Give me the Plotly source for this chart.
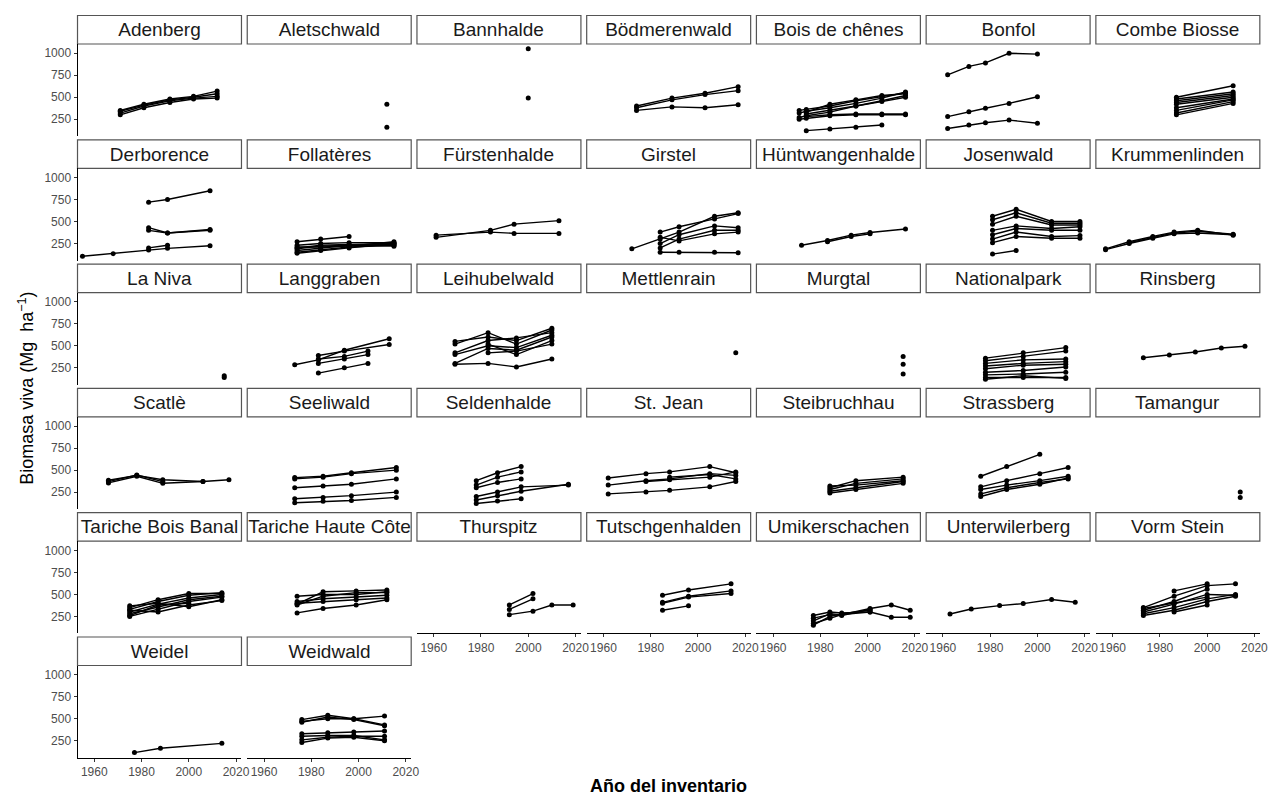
import plotly.graph_objects as go

# ---------------- data (inventory year, living biomass Mg/ha) ----------------
ADENBERG_YEARS = [1971, 1981, 1992, 2002, 2012]
ADENBERG = [[300, 380, 440, 480, 490], [320, 400, 460, 490, 510],
            [340, 410, 470, 500, 540], [350, 420, 480, 510, 570]]
ALETSCHWALD_YEARS = [2012]
ALETSCHWALD = [[420], [160]]
BANNHALDE_YEARS = [2000]
BANNHALDE = [[1050], [490]]
BODMERENWALD_YEARS = [1974, 1989, 2003, 2017]
BODMERENWALD = [[400, 490, 545, 620], [380, 470, 530, 575], [350, 390, 380, 415]]
BOIS_DE_CHENES_YEARS = [1971, 1974, 1984, 1995, 2006, 2016]
BOIS_DE_CHENES = [[270, 290, 330, 400, 460, 520], [320, 340, 380, 430, 490, 560],
                  [350, 360, 400, 460, 510, 550], [None, 310, 350, 400, 450, 500],
                  [None, 280, 300, 310, 310, 310], [None, 120, 140, 160, 185, None],
                  [None, 330, 420, 470, 520, 540], [250, 260, 290, 300, 300, 300]]
BONFOL_YEARS = [1962, 1971, 1978, 1988, 2000]
BONFOL = [[755, 850, 890, 1000, 990], [280, 335, 375, 430, 505], [145, 185, 210, 240, 205]]
COMBE_BIOSSE_YEARS = [1987, 2011]
COMBE_BIOSSE = [[500, 630], [480, 560], [460, 540], [440, 520], [420, 500],
                [380, 480], [350, 470], [320, 450], [300, 430]]
DERBORENCE_YEARS = [1955, 1968, 1983, 1991, 2009]
DERBORENCE = [[105, 135, 175, 195, 225], [None, None, 200, 230, None],
              [None, None, 430, 370, 410], [None, None, 400, 370, 400],
              [None, None, 720, 750, 850]]
FOLLATERES_YEARS = [1974, 1984, 1996, 2015]
FOLLATERES = [[150, 180, 210, 230], [170, 200, 230, 240], [200, 230, 240, 250],
              [230, 250, 260, 260], [270, 300, 330, None], [190, 220, 230, 220],
              [210, 210, 220, 270], [140, 170, 200, 250]]
FURSTENHALDE_YEARS = [1961, 1984, 1994, 2013]
FURSTENHALDE = [[320, 400, 470, 510], [345, 380, 365, 365]]
GIRSTEL_YEARS = [1972, 1984, 1992, 2007, 2017]
GIRSTEL = [[190, 300, 380, 560, 600], [None, 380, 440, 530, 590],
           [None, 250, 350, 450, 430], [None, 200, 300, 400, 400],
           [None, 320, 280, 360, 380], [None, 150, 150, 150, 145]]
HUNTWANGENHALDE_YEARS = [1972, 1983, 1993, 2001, 2016]
HUNTWANGENHALDE = [[230, 285, 345, 375, 415], [None, 270, 330, 360, None]]
JOSENWALD_YEARS = [1981, 1991, 2006, 2018]
JOSENWALD = [[560, 640, 500, 500], [520, 600, 480, 480], [470, 560, 460, 460],
             [400, 450, 420, 440], [350, 420, 400, 400], [300, 380, 330, 340],
             [260, 330, 310, 310], [130, 170, None, None]]
KRUMMENLINDEN_YEARS = [1957, 1967, 1977, 1986, 1996, 2011]
KRUMMENLINDEN = [[180, 250, 310, 360, 370, 350], [190, 270, 330, 380, 400, 345],
                 [None, 260, 320, 370, 390, 355]]
LA_NIVA_YEARS = [2015]
LA_NIVA = [[160], [140]]
LANGGRABEN_YEARS = [1973, 1983, 1994, 2004, 2013]
LANGGRABEN = [[285, 340, 450, None, 580], [None, 390, 440, None, 515],
              [None, 350, 380, 440, None], [None, 300, 350, 400, None],
              [None, 190, 250, 300, None]]
LEIHUBELWALD_YEARS = [1969, 1983, 1995, 2010]
LEIHUBELWALD = [[550, 600, 560, 700], [520, 650, 520, 680], [420, 560, 590, 650],
                [400, 500, 480, 620], [300, 470, 450, 600], [None, 420, 440, 520],
                [290, 300, 260, 350], [None, 520, 400, 560]]
METTLENRAIN_YEARS = [2016]
METTLENRAIN = [[420]]
MURGTAL_YEARS = [2015]
MURGTAL = [[380], [290], [180]]
NATIONALPARK_YEARS = [1978, 1994, 2012]
NATIONALPARK = [[360, 420, 480], [330, 380, 440], [300, 340, 350], [270, 300, 320],
                [240, 280, 290], [200, 220, 260], [170, 180, 200], [140, 140, 140],
                [120, 160, 130]]
RINSBERG_YEARS = [1973, 1984, 1995, 2006, 2016]
RINSBERG = [[365, 395, 430, 475, 495]]
SCATLE_YEARS = [1966, 1978, 1989, 2006, 2017]
SCATLE = [[385, 440, 390, 370, 390], [355, 430, 350, 370, None], [370, 445, 370, None, None]]
SEELIWALD_YEARS = [1973, 1985, 1997, 2016]
SEELIWALD = [[415, 430, 470, 530], [400, 420, 460, 500], [300, 320, 340, 400],
             [175, 190, 210, 250], [130, 145, 155, 190]]
SELDENHALDE_YEARS = [1978, 1987, 1997, 2017]
SELDENHALDE = [[380, 470, 540, None], [330, 420, 480, None], [300, 360, 400, None],
               [160, 210, 260, 340], [120, 150, 175, None], [200, 250, 310, 330]]
ST_JEAN_YEARS = [1962, 1978, 1988, 2005, 2016]
ST_JEAN = [[410, 460, 480, 540, 470], [330, 380, 400, 460, 440], [230, 250, 270, 310, 370],
           [None, 370, 390, 420, 480], [None, None, 420, 450, 400]]
STEIBRUCHHAU_YEARS = [1984, 1995, 2015]
STEIBRUCHHAU = [[300, 380, 420], [280, 350, 400], [260, 300, 370], [240, 280, 350],
                [320, 330, 380]]
STRASSBERG_YEARS = [1976, 1987, 2001, 2013]
STRASSBERG = [[430, 540, 680, None], [310, 380, 460, 530], [280, 330, 380, 430],
              [230, 300, 360, 400], [200, 280, 340, 410]]
TAMANGUR_YEARS = [2014]
TAMANGUR = [[250], [190]]
TARICHE_BB_YEARS = [1975, 1987, 2000, 2014]
TARICHE_BB = [[250, 330, 420, 470], [280, 360, 440, 480], [300, 390, 460, 500],
              [330, 420, 490, 520], [350, 440, 510, 510], [370, 400, 360, 440],
              [320, 300, 380, 430], [260, 380, 400, None]]
TARICHE_HC_YEARS = [1974, 1985, 1999, 2012]
TARICHE_HC = [[390, 530, 540, 550], [380, 480, 520, 520], [420, 450, 470, 490],
              [400, 420, 440, 460], [290, 340, 380, 440], [480, 500, 500, 530]]
THURSPITZ_YEARS = [1992, 2002, 2010, 2019]
THURSPITZ = [[380, 510, None, None], [330, 450, None, None], [270, 310, 380, 380]]
TUTSCHGENHALDEN_YEARS = [1985, 1996, 2014]
TUTSCHGENHALDEN = [[490, 550, 620], [410, 480, 540], [400, 470, 510], [320, 370, None]]
UMIKERSCHACHEN_YEARS = [1977, 1984, 1989, 2001, 2010, 2018]
UMIKERSCHACHEN = [[200, 280, 270, 340, 380, 320], [260, 300, 290, 300, 240, 240],
                  [150, 250, 280, 320, None, None], [230, 270, 260, 330, None, None],
                  [170, 230, 270, 300, None, None]]
UNTERWILERBERG_YEARS = [1963, 1972, 1984, 1994, 2006, 2016]
UNTERWILERBERG = [[277, 334, 373, 396, 442, 411]]
VORM_STEIN_YEARS = [1973, 1986, 2000, 2012]
VORM_STEIN = [[350, 480, 600, 620], [320, 420, 560, None], [300, 390, 500, 490],
              [280, 350, 450, 500], [260, 320, 420, 480], [None, 540, 620, None],
              [None, 300, 380, None], [340, 400, 470, None]]
WEIDEL_YEARS = [1977, 1988, 2014]
WEIDEL = [[115, 165, 220]]
WEIDWALD_YEARS = [1976, 1987, 1998, 2011]
WEIDWALD = [[490, 540, 500, 530], [460, 520, 490, 420], [470, 500, 500, 430],
            [330, 340, 350, 360], [300, 310, 310, 260], [260, 290, 300, 300],
            [230, 280, 290, 250]]

SITES = [
    ("Adenberg", ADENBERG_YEARS, ADENBERG), ("Aletschwald", ALETSCHWALD_YEARS, ALETSCHWALD),
    ("Bannhalde", BANNHALDE_YEARS, BANNHALDE), ("Bödmerenwald", BODMERENWALD_YEARS, BODMERENWALD),
    ("Bois de chênes", BOIS_DE_CHENES_YEARS, BOIS_DE_CHENES), ("Bonfol", BONFOL_YEARS, BONFOL),
    ("Combe Biosse", COMBE_BIOSSE_YEARS, COMBE_BIOSSE), ("Derborence", DERBORENCE_YEARS, DERBORENCE),
    ("Follatères", FOLLATERES_YEARS, FOLLATERES), ("Fürstenhalde", FURSTENHALDE_YEARS, FURSTENHALDE),
    ("Girstel", GIRSTEL_YEARS, GIRSTEL), ("Hüntwangenhalde", HUNTWANGENHALDE_YEARS, HUNTWANGENHALDE),
    ("Josenwald", JOSENWALD_YEARS, JOSENWALD), ("Krummenlinden", KRUMMENLINDEN_YEARS, KRUMMENLINDEN),
    ("La Niva", LA_NIVA_YEARS, LA_NIVA), ("Langgraben", LANGGRABEN_YEARS, LANGGRABEN),
    ("Leihubelwald", LEIHUBELWALD_YEARS, LEIHUBELWALD), ("Mettlenrain", METTLENRAIN_YEARS, METTLENRAIN),
    ("Murgtal", MURGTAL_YEARS, MURGTAL), ("Nationalpark", NATIONALPARK_YEARS, NATIONALPARK),
    ("Rinsberg", RINSBERG_YEARS, RINSBERG), ("Scatlè", SCATLE_YEARS, SCATLE),
    ("Seeliwald", SEELIWALD_YEARS, SEELIWALD), ("Seldenhalde", SELDENHALDE_YEARS, SELDENHALDE),
    ("St. Jean", ST_JEAN_YEARS, ST_JEAN), ("Steibruchhau", STEIBRUCHHAU_YEARS, STEIBRUCHHAU),
    ("Strassberg", STRASSBERG_YEARS, STRASSBERG), ("Tamangur", TAMANGUR_YEARS, TAMANGUR),
    ("Tariche Bois Banal", TARICHE_BB_YEARS, TARICHE_BB), ("Tariche Haute Côte", TARICHE_HC_YEARS, TARICHE_HC),
    ("Thurspitz", THURSPITZ_YEARS, THURSPITZ), ("Tutschgenhalden", TUTSCHGENHALDEN_YEARS, TUTSCHGENHALDEN),
    ("Umikerschachen", UMIKERSCHACHEN_YEARS, UMIKERSCHACHEN), ("Unterwilerberg", UNTERWILERBERG_YEARS, UNTERWILERBERG),
    ("Vorm Stein", VORM_STEIN_YEARS, VORM_STEIN), ("Weidel", WEIDEL_YEARS, WEIDEL),
    ("Weidwald", WEIDWALD_YEARS, WEIDWALD),
]

X_TICKS = [1960, 1980, 2000, 2020]
Y_TICKS = [250, 500, 750, 1000]
X_RANGE = [1952.9, 2022.3]
Y_RANGE = [57, 1105]

# ---------------- layout geometry (pixels) ----------------
W, H = 1273, 796
NCOL = 7
COL0, COLP, PW = 78.0, 170.8, 165.0
ROW0, ROWP, PH, SH = 44.0, 124.3, 92.2, 28.5
FONT = "Liberation Sans, Arial, sans-serif"
TICKC = "#4d4d4d"

fig = go.Figure()
layout = {}
shapes, annots = [], []
n = len(SITES)
for k, (name, yrs, rows) in enumerate(SITES):
    r, c = divmod(k, NCOL)
    x0 = COL0 + c * COLP
    x1 = x0 + PW
    top = ROW0 + r * ROWP
    bot = top + PH
    i = k + 1
    xa = "x" if i == 1 else f"x{i}"
    ya = "y" if i == 1 else f"y{i}"
    for vals in rows:
        fig.add_trace(go.Scatter(
            x=yrs, y=vals, xaxis=xa, yaxis=ya, mode="lines+markers",
            connectgaps=True, showlegend=False, hoverinfo="skip",
            line=dict(color="black", width=1.4),
            marker=dict(color="black", size=5)))
    is_bottom = k + NCOL >= n
    is_left = c == 0
    layout["xaxis" if i == 1 else f"xaxis{i}"] = dict(
        domain=[x0 / W, x1 / W], range=X_RANGE, anchor=ya,
        showgrid=False, zeroline=False,
        showline=is_bottom, linecolor="black", linewidth=1,
        ticks="outside" if is_bottom else "", ticklen=3, tickcolor="#333333",
        tickvals=X_TICKS, showticklabels=is_bottom,
        tickfont=dict(family=FONT, size=12, color=TICKC))
    layout["yaxis" if i == 1 else f"yaxis{i}"] = dict(
        domain=[1 - bot / H, 1 - top / H], range=Y_RANGE, anchor=xa,
        showgrid=False, zeroline=False,
        showline=is_left, linecolor="black", linewidth=1,
        ticks="outside" if is_left else "", ticklen=3, tickcolor="#333333",
        tickvals=Y_TICKS, showticklabels=is_left,
        tickfont=dict(family=FONT, size=12, color=TICKC))
    # strip
    shapes.append(dict(type="rect", xref="paper", yref="paper",
                       x0=x0 / W, x1=x1 / W, y0=1 - top / H, y1=1 - (top - SH) / H,
                       line=dict(color="#555555", width=1.2), fillcolor="white",
                       layer="below"))
    annots.append(dict(text=name, xref="paper", yref="paper",
                       x=(x0 + x1) / 2 / W, y=1 - (top - SH / 2) / H,
                       xanchor="center", yanchor="middle", showarrow=False,
                       width=PW - 2, align="center",
                       font=dict(family=FONT, size=19, color="#1a1a1a")))

annots.append(dict(text="Biomasa viva (Mg  ha<sup>−1</sup>)", xref="paper", yref="paper",
                   x=26 / W, y=1 - 388 / H, textangle=-90, showarrow=False,
                   xanchor="center", yanchor="middle",
                   font=dict(family=FONT, size=18, color="black")))
annots.append(dict(text="<b>Año del inventario</b>", xref="paper", yref="paper",
                   x=(COL0 + 6 * COLP + PW + COL0) / 2 / W, y=1 - 786 / H,
                   showarrow=False, xanchor="center", yanchor="middle",
                   font=dict(family=FONT, size=18, color="black")))

fig.update_layout(**layout)
fig.update_layout(width=W, height=H, autosize=False,
                  margin=dict(l=0, r=0, t=0, b=0),
                  paper_bgcolor="white", plot_bgcolor="white",
                  shapes=shapes, annotations=annots)

fig.write_html("out.html", config={"displayModeBar": False},
               post_script="document.body.style.margin='0px';")
